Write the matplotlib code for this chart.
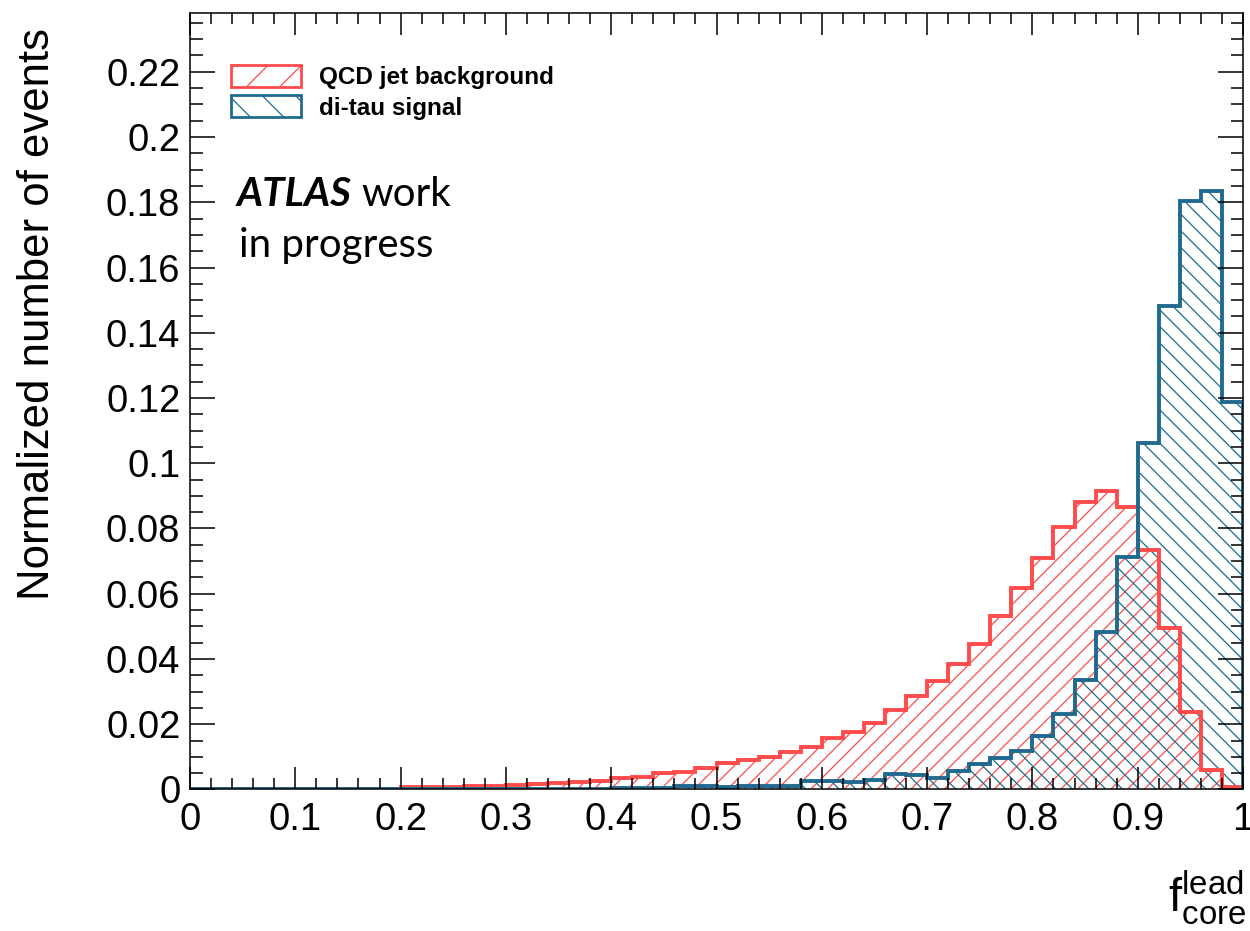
import numpy as np
import matplotlib
matplotlib.use("Agg")
import matplotlib.pyplot as plt
from matplotlib.patches import Patch
from matplotlib.ticker import MultipleLocator

# Binning of the leading-subjet core energy fraction
bin_edges = np.linspace(0.0, 1.0, 51)

# Normalized QCD jet background distribution (50 bins)
qcd_background = [
    0, 0, 0, 0, 0, 0, 0, 0, 0, 0,
    0.0007, 0.0008, 0.0009, 0.0010, 0.0011,
    0.0014, 0.0017, 0.0021, 0.0023, 0.0027,
    0.0034, 0.0039, 0.0050, 0.0055, 0.0065,
    0.0080, 0.0090, 0.0101, 0.0116, 0.0131,
    0.0157, 0.0177, 0.0205, 0.0243, 0.0288,
    0.0334, 0.0384, 0.0445, 0.0533, 0.0619,
    0.0709, 0.0806, 0.0881, 0.0916, 0.0865,
    0.0734, 0.0494, 0.0237, 0.0060, 0.0008,
]

# Normalized di-tau signal distribution (50 bins)
ditau_signal = [
    0, 0, 0, 0, 0, 0, 0, 0, 0, 0,
    0, 0, 0, 0, 0, 0, 0.0003, 0, 0, 0,
    0.0004, 0.0005, 0.0005, 0.0012, 0.0010,
    0.0008, 0.0010, 0.0010, 0.0011, 0.0027,
    0.0027, 0.0024, 0.0029, 0.0047, 0.0043,
    0.0035, 0.0058, 0.0077, 0.0098, 0.0119,
    0.0165, 0.0232, 0.0336, 0.0484, 0.0712,
    0.1062, 0.1483, 0.1805, 0.1836, 0.1189,
]

series_labels = ["QCD jet background", "di-tau signal"]
red = "#FF4B4B"
blue = "#1F6A8E"

plt.rcParams["font.family"] = ["Liberation Sans", "DejaVu Sans"]
plt.rcParams["hatch.linewidth"] = 0.9
plt.rcParams["mathtext.fontset"] = "custom"
plt.rcParams["mathtext.rm"] = "Liberation Sans"

fig = plt.figure(figsize=(12.5, 9.31), dpi=100)
ax = fig.add_axes([0.152, 0.152, 0.8424, 0.834])

for vals, col, hatch in [(qcd_background, red, "//"), (ditau_signal, blue, "\\\\")]:
    ax.stairs(vals, bin_edges, fill=True, facecolor="none", edgecolor=col,
              hatch=hatch, linewidth=0)
for vals, col in [(qcd_background, red), (ditau_signal, blue)]:
    ax.stairs(vals, bin_edges, fill=False, color=col, linewidth=2.8)

ax.set_xlim(0, 1)
ax.set_ylim(0, 0.238)

ax.xaxis.set_major_locator(MultipleLocator(0.1))
ax.xaxis.set_minor_locator(MultipleLocator(0.02))
ax.yaxis.set_major_locator(MultipleLocator(0.02))
ax.yaxis.set_minor_locator(MultipleLocator(0.005))
ax.set_xticks(np.arange(0, 1.01, 0.1))
ax.set_xticklabels(["0", "0.1", "0.2", "0.3", "0.4", "0.5", "0.6", "0.7",
                    "0.8", "0.9", "1"])
ax.set_yticks(np.arange(0, 0.2201, 0.02))
ax.set_yticklabels(["0", "0.02", "0.04", "0.06", "0.08", "0.1", "0.12",
                    "0.14", "0.16", "0.18", "0.2", "0.22"])

ax.tick_params(axis="both", which="both", direction="in", top=True,
               right=True, width=1.1, labelsize=27.5)
ax.tick_params(axis="x", which="major", length=16, pad=9)
ax.tick_params(axis="x", which="minor", length=8)
ax.tick_params(axis="y", which="major", length=18, pad=7)
ax.tick_params(axis="y", which="minor", length=9)
for sp in ax.spines.values():
    sp.set_linewidth(1.1)

ax.set_ylabel("Normalized number of events", fontsize=31.5)
ax.yaxis.set_label_coords(-0.125, 0.612)

fig.text(0.997, 0.004, r"$\mathrm{f}^{\mathrm{lead}}_{\mathrm{core}}$",
         fontsize=34, ha="right", va="bottom")

handles = [
    Patch(facecolor="none", edgecolor=red, hatch="/", linewidth=2.0),
    Patch(facecolor="none", edgecolor=blue, hatch="\\", linewidth=2.0),
]
leg = ax.legend(handles, series_labels, loc="upper left",
                bbox_to_anchor=(0.02, 0.958), frameon=False,
                prop={"family": "Liberation Sans", "weight": "bold", "size": 17.5},
                handlelength=2.9, handleheight=1.0, handletextpad=0.75,
                labelspacing=0.25, borderpad=0.3)

ax.text(0.044, 0.751, "ATLAS", transform=ax.transAxes, fontsize=29,
        family="Lato", weight="bold", style="italic", va="baseline")
ax.text(0.163, 0.751, "work", transform=ax.transAxes, fontsize=29,
        family="Lato", va="baseline")
ax.text(0.047, 0.686, "in progress", transform=ax.transAxes, fontsize=29,
        family="Lato", va="baseline")

fig.savefig("out.png", dpi=100)
